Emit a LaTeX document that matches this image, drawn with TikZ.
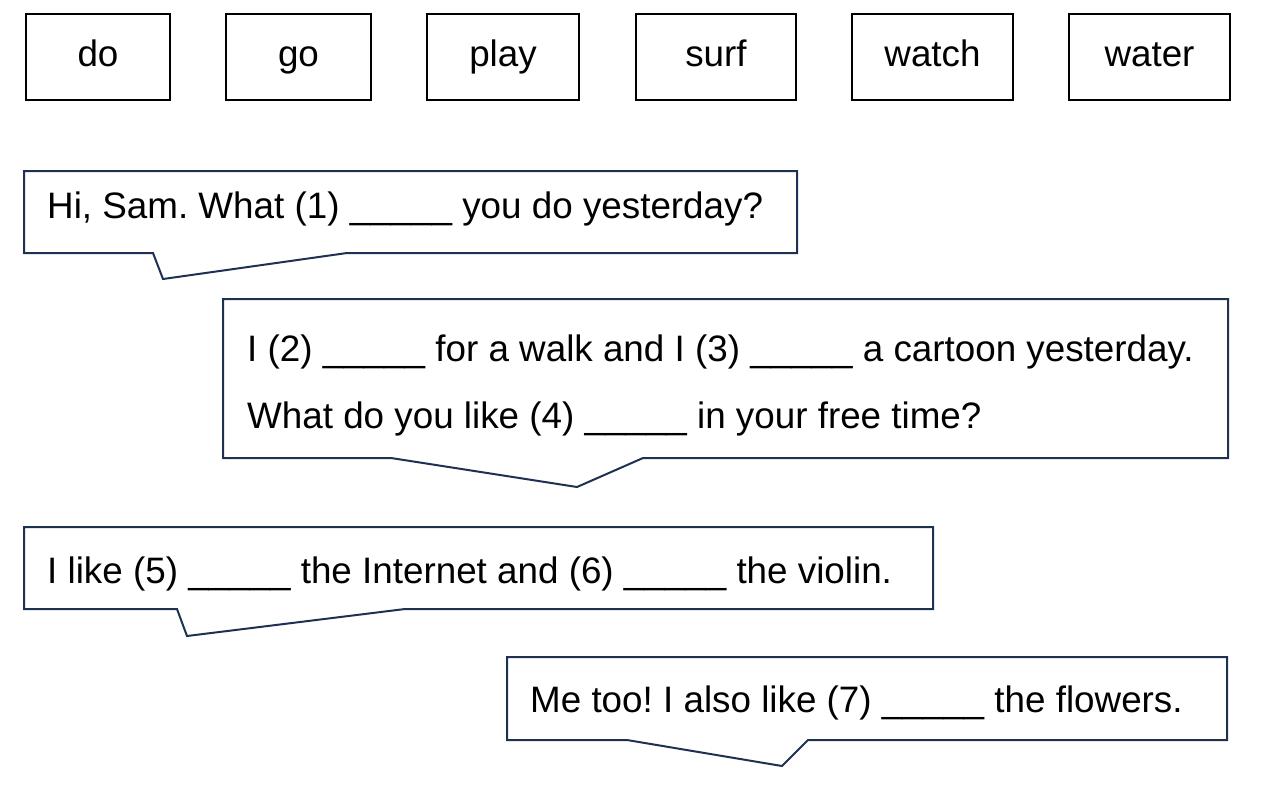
\documentclass[tikz,border=0pt]{standalone}
\usepackage{fontspec}
\setmainfont{Liberation Sans}
\usepackage{xcolor}
\usepackage{tikz}
\definecolor{bubblenavy}{HTML}{1F3152}
\frenchspacing

\begin{document}
\begin{tikzpicture}[x=1pt, y=-1pt, font=\fontsize{36.8}{44}\selectfont,
  word/.style={draw, line width=1.5pt, minimum height=86pt, inner sep=0pt, text height=26pt, text depth=7pt},
  bubble/.style={draw=bubblenavy, line width=2pt, line join=miter},
  say/.style={anchor=base west, inner sep=0pt}]
\useasboundingbox (0,0) rectangle (1268,793);
% word bank
\node[word, minimum width=144pt] (do) at (98,57) {do};
\node[word, minimum width=145pt] (go) at (298.5,57) {go};
\node[word, minimum width=152pt] (play) at (503,57) {play};
\node[word, minimum width=160pt] (surf) at (716,57) {surf};
\node[word, minimum width=161pt] (watch) at (932.5,57) {watch};
\node[word, minimum width=161pt] (water) at (1149.5,57) {water};
% bubble 1
\draw[bubble] (24,171) -- (797,171) -- (797,253) -- (347,253) -- (163,279) -- (153,253) -- (24,253) -- cycle;
\node[say] (q1) at (47,218) {Hi, Sam. What (1) \_\_\_\_\_ you do yesterday?};
% bubble 2
\draw[bubble] (223,299) -- (1228,299) -- (1228,458) -- (643,458) -- (577,487) -- (391,458) -- (223,458) -- cycle;
\node[say] (a2) at (247,361) {I (2) \_\_\_\_\_ for a walk and I (3) \_\_\_\_\_ a cartoon yesterday.};
\node[say] (q2) at (247,428) {What do you like (4) \_\_\_\_\_ in your free time?};
% bubble 3
\draw[bubble] (24,527) -- (933,527) -- (933,609) -- (405,609) -- (187,636) -- (177,609) -- (24,609) -- cycle;
\node[say] (a3) at (47,583) {I like (5) \_\_\_\_\_ the Internet and (6) \_\_\_\_\_ the violin.};
% bubble 4
\draw[bubble] (507,657) -- (1227,657) -- (1227,740) -- (808,740) -- (782,766) -- (627,740) -- (507,740) -- cycle;
\node[say] (a4) at (530,712) {Me too! I also like (7) \_\_\_\_\_ the flowers.};
\end{tikzpicture}
\end{document}
